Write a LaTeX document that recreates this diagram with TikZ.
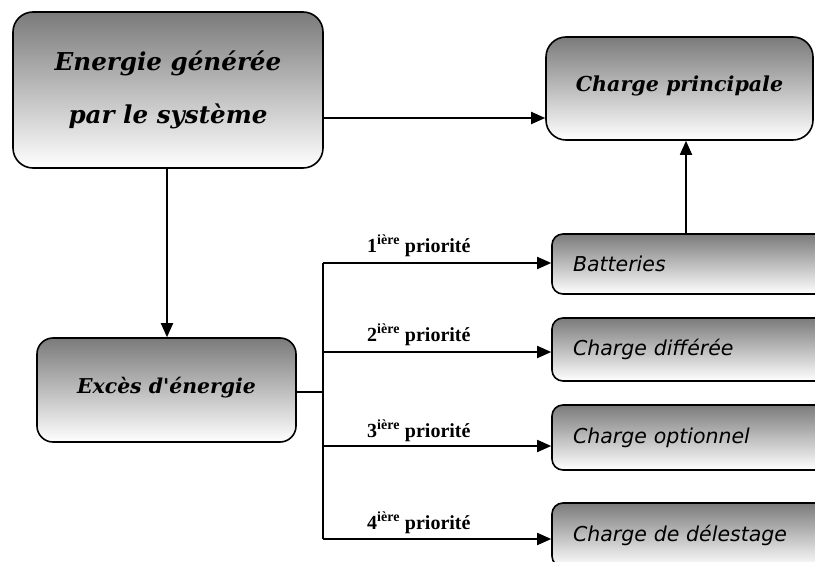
\documentclass[tikz,border=0pt]{standalone}
\usepackage{fontspec}
\setmainfont{Liberation Serif}
\newfontfamily\boxfont{DejaVu Serif}
\newfontfamily\sansfnt{DejaVu Sans}
\usetikzlibrary{arrows.meta}
\tikzset{
  gbox/.style={draw=black, line width=1.6pt, top color=black!52, bottom color=white},
  bigbox/.style={gbox, rounded corners=20pt, align=center, inner sep=0pt,
     font=\boxfont\bfseries\itshape},
  rbox/.style={gbox, rounded corners=11pt, minimum width=280pt, text width=238pt,
     align=left, inner sep=0pt, font=\sansfnt\itshape\fontsize{20.5}{24}\selectfont},
  arr/.style={line width=1.8pt, -{Triangle[length=14pt,width=12pt]}},
  ln/.style={line width=1.8pt},
  prio/.style={font=\bfseries\fontsize{20}{22}\selectfont, inner sep=0pt}
}
\begin{document}
\begin{tikzpicture}[x=1pt,y=-1pt]
\useasboundingbox (0,0) rectangle (815,562);
\clip (0,0) rectangle (815,562);
% main boxes
\node[bigbox, minimum width=310pt, minimum height=156pt,
      font=\boxfont\bfseries\itshape\fontsize{24.6}{53}\selectfont] (A) at (168,90)
      {Energie générée\\par le système};
\node[bigbox, minimum width=267pt, minimum height=103pt,
      font=\boxfont\bfseries\itshape\fontsize{20.6}{24}\selectfont] (B) at (679.5,88.5)
      {\raisebox{9pt}{Charge principale}};
\node[bigbox, rounded corners=16pt, minimum width=259pt, minimum height=104pt,
      font=\boxfont\bfseries\itshape\fontsize{20.4}{24}\selectfont] (C) at (166.5,390)
      {\raisebox{10pt}{Excès d'énergie}};
% right boxes
\node[rbox, minimum height=60pt] (R1) at (692,264) {Batteries};
\node[rbox, minimum height=63pt] (R2) at (692,349.5) {Charge différée};
\node[rbox, minimum height=65pt] (R3) at (692,437.5) {Charge optionnel};
\node[rbox, minimum height=64pt] (R4) at (692,535) {\raisebox{4pt}{Charge de délestage}};
% bus coordinates
\coordinate (b0) at (323,392);
\coordinate (b1) at (323,263);
\coordinate (b2) at (323,352);
\coordinate (b3) at (323,446);
\coordinate (b4) at (323,539);
% connectors
\draw[arr] (A.east |- 0,118) -- (B.west |- 0,118);
\draw[arr] (A.south -| 167,0) -- (C.north -| 167,0);
\draw[arr] (R1.north -| 686,0) -- (B.south -| 686,0);
\draw[ln] (C.east |- b0) -- (b0);
\draw[ln] (b1) -- (b4);
\draw[arr] (b1) -- (R1.west |- b1) node[prio, pos=0.42, yshift=17pt] (p1) {1\textsuperscript{ière} priorité};
\draw[arr] (b2) -- (R2.west |- b2) node[prio, pos=0.42, yshift=17pt] (p2) {2\textsuperscript{ière} priorité};
\draw[arr] (b3) -- (R3.west |- b3) node[prio, pos=0.42, yshift=15pt] (p3) {3\textsuperscript{ière} priorité};
\draw[arr] (b4) -- (R4.west |- b4) node[prio, pos=0.42, yshift=16pt] (p4) {4\textsuperscript{ière} priorité};
\end{tikzpicture}
\end{document}
